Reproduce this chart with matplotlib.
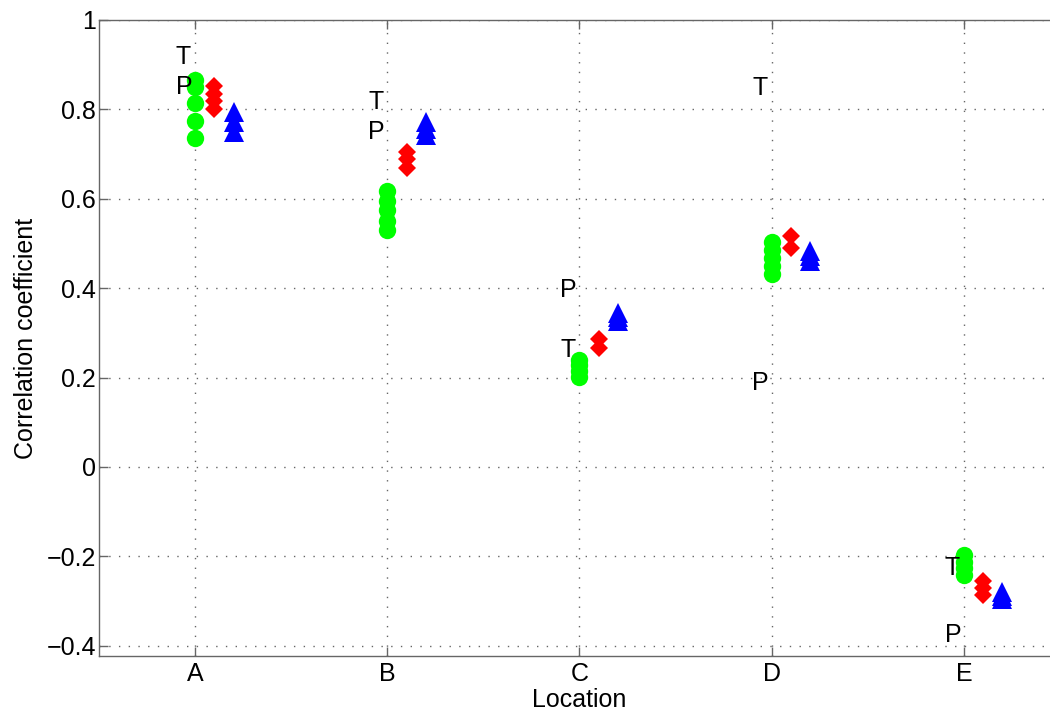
import matplotlib
matplotlib.use("Agg")
import matplotlib.pyplot as plt

plt.rcParams['font.family'] = ['Liberation Sans', 'DejaVu Sans']

# Locations and correlation values per method
locations = ['A', 'B', 'C', 'D', 'E']

green_vals = [
    [0.865, 0.85, 0.815, 0.775, 0.735],
    [0.618, 0.595, 0.575, 0.55, 0.531],
    [0.24, 0.228, 0.215, 0.202],
    [0.504, 0.485, 0.468, 0.45, 0.431],
    [-0.198, -0.212, -0.227, -0.241],
]
red_vals = [
    [0.852, 0.835, 0.818, 0.801],
    [0.705, 0.69, 0.669],
    [0.286, 0.266],
    [0.517, 0.49],
    [-0.255, -0.27, -0.287],
]
blue_vals = [
    [0.794, 0.772, 0.75],
    [0.771, 0.756, 0.742],
    [0.344, 0.335, 0.326],
    [0.484, 0.472, 0.46],
    [-0.28, -0.288, -0.296],
]

# position of the "T" and "P" labels for each location
t_y = [0.917, 0.8165, 0.262, 0.848, -0.226]
p_y = [0.85, 0.749, 0.396, 0.188, -0.376]

fig = plt.figure(figsize=(10.5, 7.21), dpi=100)
ax = fig.add_axes([0.0943, 0.0902, 0.9152, 0.8821])

for i, loc in enumerate(locations):
    x = i + 1
    ax.plot([x] * len(green_vals[i]), green_vals[i], 'o', color='#00ff00',
            markersize=12.5, markeredgewidth=0, zorder=3)
    ax.plot([x + 0.1] * len(red_vals[i]), red_vals[i], 'D', color='#ff0000',
            markersize=9.5, markeredgewidth=0, zorder=3)
    ax.plot([x + 0.2] * len(blue_vals[i]), blue_vals[i], '^', color='#0000ff',
            markersize=15, markeredgewidth=0, zorder=3)
    ax.text(x - 0.1, t_y[i], 'T', fontsize=18, ha='left', va='center', zorder=4)
    ax.text(x - 0.1, p_y[i], 'P', fontsize=18, ha='left', va='center', zorder=4)

ax.set_xlim(0.5, 5.5)
ax.set_ylim(-0.423, 1.0)
ax.set_xticks(range(1, len(locations) + 1))
ax.set_xticklabels(locations)
ax.set_yticks([-0.4, -0.2, 0, 0.2, 0.4, 0.6, 0.8, 1])
ax.set_yticklabels(['\u22120.4', '\u22120.2', '0', '0.2', '0.4', '0.6', '0.8', '1'])

ax.grid(True, color='#666666', linestyle=(0, (1, 6)), linewidth=1)
ax.set_axisbelow(True)
ax.tick_params(direction='in', length=6.5, width=1, color='#666666',
               labelsize=18, top=True, right=True, pad=4)
ax.tick_params(axis='y', pad=2)
for s in ax.spines.values():
    s.set_color('#666666')
    s.set_linewidth(1)

ax.set_xlabel('Location', fontsize=18, labelpad=2)
ax.set_ylabel('Correlation coefficient', fontsize=18, labelpad=6)

fig.savefig('out.png', dpi=100)
